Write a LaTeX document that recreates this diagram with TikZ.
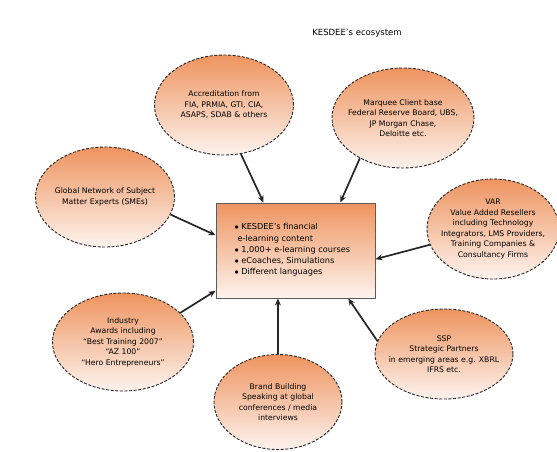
\documentclass[tikz,border=0pt]{standalone}
\usepackage{fontspec}
\setmainfont{DejaVu Sans}
\usetikzlibrary{shapes.geometric,calc,arrows.meta}
\definecolor{org}{RGB}{238,148,95}
\definecolor{pale}{RGB}{253,243,238}
\definecolor{boxline}{RGB}{95,90,90}
\tikzset{
  eco/.style={ellipse,draw=black!85,dash pattern=on 3pt off 1.6pt,line width=0.9pt,
    top color=org,bottom color=pale,middle color=org!50!pale,inner xsep=-25pt,inner ysep=-15pt,
    align=center,font=\fontsize{7.7}{10.5}\selectfont},
  hub/.style={rectangle,draw=boxline,line width=1pt,top color=org,bottom color=pale,
    minimum width=159pt,minimum height=95pt,inner sep=0pt},
  feed/.style={-{Stealth[length=7pt,width=6pt]},line width=1.7pt,black!85}
}
\begin{document}
\begin{tikzpicture}[x=1pt,y=-1pt]
\useasboundingbox (0,0) rectangle (557,451);
\node[font=\fontsize{8.5}{10}\selectfont] (title) at (357,33) {KESDEE's ecosystem};
\node[hub] (box) at (295.5,250.5) {};
\node[anchor=north west,align=left,font=\fontsize{8.2}{11.3}\selectfont] (boxtxt) at (231,220)
  {$\bullet$ KESDEE's financial\\
   \hspace*{3pt}e-learning content\\
   $\bullet$ 1,000+ e-learning courses\\
   $\bullet$ eCoaches, Simulations\\
   $\bullet$ Different languages};
\node[eco,minimum width=139pt,minimum height=100pt] (tl) at (224,105)
  {Accreditation from\\FIA, PRMIA, GTI, CIA,\\ASAPS, SDAB \& others};
\node[eco,minimum width=142pt,minimum height=100pt] (tr) at (403,118)
  {Marquee Client base\\Federal Reserve Board, UBS,\\JP Morgan Chase,\\Deloitte etc.};
\node[eco,minimum width=139pt,minimum height=100pt] (lf) at (105,197)
  {Global Network of Subject\\Matter Experts (SMEs)};
\node[eco,minimum width=132pt,minimum height=100pt] (rt) at (493,229)
  {VAR\\Value Added Resellers\\including Technology\\Integrators, LMS Providers,\\Training Companies \&\\Consultancy Firms};
\node[eco,minimum width=141pt,minimum height=98pt] (bl) at (123,342)
  {Industry\\Awards including\\``Best Training 2007''\\``AZ 100''\\``Hero Entrepreneurs''};
\node[eco,minimum width=138pt,minimum height=90pt] (br) at (444,354)
  {SSP\\Strategic Partners\\in emerging areas e.g. XBRL\\IFRS etc.};
\node[eco,minimum width=128pt,minimum height=95pt] (bt) at (278,402)
  {Brand Building\\Speaking at global\\conferences / media\\interviews};
\draw[feed] (tl.-71.6) -- ($(box.north west)!0.30!(box.north east)$);
\draw[feed] (tr.-137) -- ($(box.north west)!0.78!(box.north east)$);
\draw[feed] (lf.-15.5) -- ($(box.north west)!0.34!(box.south west)$);
\draw[feed] (rt.-166) -- ($(box.north east)!0.59!(box.south east)$);
\draw[feed] (bl.27.8) -- ($(box.north west)!0.92!(box.south west)$);
\draw[feed] (br.169) -- ($(box.south west)!0.83!(box.south east)$);
\draw[feed] (bt.north) -- ($(box.south west)!0.39!(box.south east)$);
\end{tikzpicture}
\end{document}
